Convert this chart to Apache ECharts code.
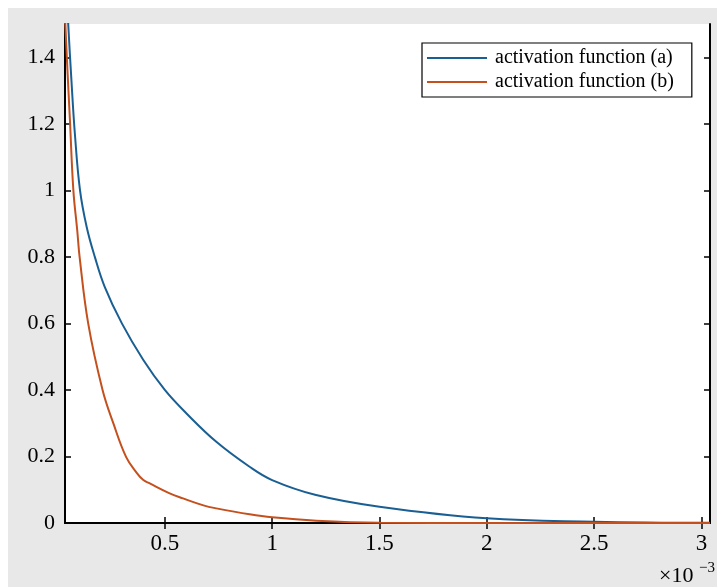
<!DOCTYPE html>
<html>
<head>
<meta charset="utf-8">
<script src="https://cdn.jsdelivr.net/npm/echarts@6/dist/echarts.min.js"></script>
<style>
html,body{margin:0;padding:0;background:#fff;}
#wrap{position:relative;width:717px;height:587px;}
#bg{position:absolute;left:8px;top:8px;width:709px;height:579px;background:#e8e8e8;}
#chart{position:absolute;left:0;top:0;width:717px;height:587px;}
</style>
</head>
<body>
<div id="wrap"><div id="bg"></div><div id="chart"></div></div>
<script>
// x values in units of 1e-3
const seriesNames = ['activation function (a)', 'activation function (b)'];
const xA = [0.045, 0.05, 0.065, 0.081, 0.105, 0.136, 0.174, 0.22, 0.30, 0.40, 0.50, 0.60, 0.74, 0.895, 1.0, 1.2, 1.5, 2.0, 2.5, 3.04];
const yA = [1.58, 1.5, 1.33, 1.17, 1.0, 0.89, 0.8, 0.71, 0.6, 0.49, 0.40, 0.33, 0.244, 0.169, 0.129, 0.085, 0.049, 0.014, 0.004, 0.0005];
const xB = [0.033, 0.045, 0.058, 0.074, 0.092, 0.103, 0.143, 0.21, 0.26, 0.32, 0.37, 0.40, 0.43, 0.52, 0.585, 0.68, 0.74, 0.895, 1.0, 1.206, 1.5, 2.0, 2.5, 3.04];
const yB = [1.55, 1.38, 1.21, 1.0, 0.88, 0.8, 0.6, 0.40, 0.30, 0.198, 0.15, 0.129, 0.119, 0.09, 0.074, 0.053, 0.044, 0.026, 0.017, 0.007, 0.001, 0.0, 0.0, 0.0];
const xTicks = [0.5, 1, 1.5, 2, 2.5, 3];
const yTicks = [0, 0.2, 0.4, 0.6, 0.8, 1, 1.2, 1.4];
const xMin = 0.035, xMax = 3.04, yMin = 0, yMax = 1.5;
const colors = ['#1a5f93', '#c4501e'];

const chart = echarts.init(document.getElementById('chart'), null, {renderer: 'canvas'});
const font = '"Liberation Serif", "Times New Roman", serif';
const lineAx = {show: true, lineStyle: {color: '#000', width: 2}};
function xAxisDef(pos, labels) {
  return {
    type: 'value', position: pos, min: xMin, max: xMax,
    axisLine: lineAx,
    axisTick: {show: true, inside: true, length: 6, lineStyle: {color: '#000', width: 1.5}, customValues: xTicks},
    axisLabel: {show: labels, customValues: xTicks, color: '#000', fontFamily: font, fontSize: 23, margin: 9,
      formatter: v => String(v)},
    splitLine: {show: false}
  };
}
function yAxisDef(pos, labels) {
  return {
    type: 'value', position: pos, min: yMin, max: yMax,
    axisLine: lineAx,
    axisTick: {show: true, inside: true, length: 6, lineStyle: {color: '#000', width: 1.5}, customValues: yTicks},
    axisLabel: {show: labels, customValues: yTicks, color: '#000', fontFamily: font, fontSize: 22, margin: 10,
      formatter: v => String(v)},
    splitLine: {show: false}
  };
}
const option = {
  animation: false,
  backgroundColor: 'transparent',
  grid: {left: 65, top: 24, right: 7, bottom: 64, show: true, backgroundColor: '#fff', borderWidth: 0},
  xAxis: [xAxisDef('bottom', true), xAxisDef('top', false)],
  yAxis: [yAxisDef('left', true), yAxisDef('right', false)],
  legend: {
    left: 422, top: 43, orient: 'vertical',
    icon: 'rect', itemWidth: 60, itemHeight: 2, itemGap: 0,
    padding: [3, 18, 3, 5],
    backgroundColor: '#fff', borderColor: '#000', borderWidth: 1.2, borderRadius: 0,
    textStyle: {fontFamily: font, fontSize: 20, color: '#000', lineHeight: 24, padding: [0, 0, 0, 3]},
    data: seriesNames
  },
  graphic: [
    {type: 'text', left: 659, top: 565, style: {text: '×10', font: '22px "Liberation Serif"', fill: '#000'}},
    {type: 'text', left: 699, top: 561, style: {text: '−3', font: '15px "Liberation Serif"', fill: '#000'}}
  ],
  series: [
    {name: seriesNames[0], type: 'line', xAxisIndex: 0, yAxisIndex: 0, showSymbol: false, smooth: 0.4,
      color: colors[0], lineStyle: {width: 2, color: colors[0]}, data: xA.map((x, i) => [x, yA[i]])},
    {name: seriesNames[1], type: 'line', xAxisIndex: 0, yAxisIndex: 0, showSymbol: false, smooth: 0.4,
      color: colors[1], lineStyle: {width: 2, color: colors[1]}, data: xB.map((x, i) => [x, yB[i]])}
  ]
};
chart.setOption(option);
</script>
</body>
</html>
